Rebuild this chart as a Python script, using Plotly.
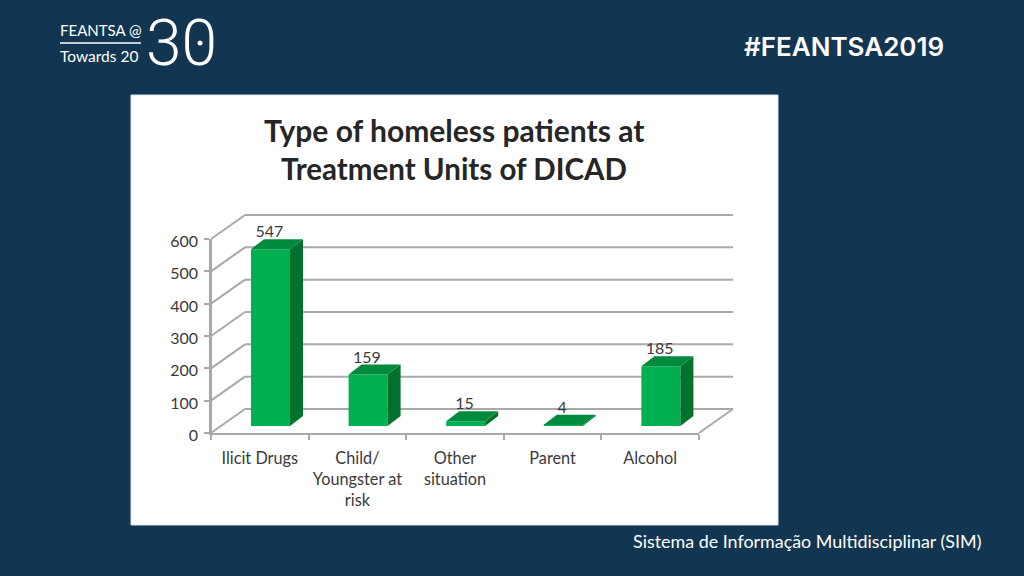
import plotly.graph_objects as go

categories = ["Ilicit Drugs", "Child/<br>Youngster at<br>risk", "Other<br>situation", "Parent", "Alcohol"]
values = [547, 159, 15, 4, 185]
y_ticks = [0, 100, 200, 300, 400, 500, 600]

W, H = 1024, 576
L, R, T, B = 211, 699, 239, 433
PXX = (R - L) / 5
PXY = (B - T) / 600

NAVY = "#123652"
GRID = "#A9A9A9"
FRONT = "#00B050"
SIDE = "#00722E"
TOP = "#008A3E"
TXT = "#3A3A3A"
FONT = "Lato"
LABEL_SHIFT = 2.5

WALL_X, WALL_Y = 34 / PXX, 24 / PXY
BAR_X0, BAR_Y0 = 10.7 / PXX, 7 / PXY
BAR_W = 39 / PXX
DEP_X, DEP_Y = 13 / PXX, 10 / PXY

def px(x):
    return x / W

def py(y):
    return 1 - y / H

fig = go.Figure()
xs = list(range(len(values)))

# invisible traces that keep the visible axes alive
fig.add_trace(go.Scatter(x=xs, y=values, mode="markers", marker=dict(opacity=0),
                         xaxis="x", yaxis="y", hoverinfo="skip", showlegend=False))
fig.add_trace(go.Scatter(x=xs, y=values, mode="markers", marker=dict(opacity=0),
                         xaxis="x", yaxis="y3", hoverinfo="skip", showlegend=False))

# bar front faces, on a hidden full-canvas axis pair that shares the chart's scale
fig.add_trace(go.Bar(x=xs, y=values, base=[BAR_Y0] * len(values), width=BAR_W,
                     offset=BAR_X0 - BAR_W / 2, marker=dict(color=FRONT, line=dict(width=0)),
                     xaxis="x2", yaxis="y2", showlegend=False))

# bar sides and tops
for i, v in zip(xs, values):
    x0 = i + BAR_X0 - BAR_W / 2
    x1 = x0 + BAR_W
    y0 = BAR_Y0
    y1 = BAR_Y0 + v
    fig.add_trace(go.Scatter(x=[x1, x1 + DEP_X, x1 + DEP_X, x1, x1],
                             y=[y0, y0 + DEP_Y, y1 + DEP_Y, y1, y0],
                             mode="lines", fill="toself", fillcolor=SIDE, line=dict(width=0),
                             xaxis="x2", yaxis="y2", hoverinfo="skip", showlegend=False))
    fig.add_trace(go.Scatter(x=[x0, x0 + DEP_X, x1 + DEP_X, x1, x0],
                             y=[y1, y1 + DEP_Y, y1 + DEP_Y, y1, y1],
                             mode="lines", fill="toself", fillcolor=TOP, line=dict(width=0),
                             xaxis="x2", yaxis="y2", hoverinfo="skip", showlegend=False))

# value labels
fig.add_trace(go.Scatter(x=[i + 9.5 / PXX for i in xs],
                         y=[BAR_Y0 + v + 16 / PXY for v in values],
                         mode="text", text=[str(v) for v in values],
                         textposition="middle center",
                         textfont=dict(family=FONT, size=16, color=TXT),
                         xaxis="x2", yaxis="y2", hoverinfo="skip", showlegend=False))

shapes = [
    dict(type="rect", xref="paper", yref="paper", layer="below",
         x0=px(131), x1=px(778), y0=py(525), y1=py(95),
         fillcolor="white", line=dict(color="#DDE3E8", width=1)),
    dict(type="line", xref="paper", yref="paper", layer="below",
         x0=px(60), x1=px(141), y0=py(43), y1=py(43), line=dict(color="white", width=1.5)),
    dict(type="circle", xref="paper", yref="paper", layer="below",
         x0=px(197.5), x1=px(202.5), y0=py(45.5), y1=py(40.5), fillcolor="white", line=dict(width=0)),
]

def wall_line(x0, y0, x1, y1):
    return dict(type="line", xref="x2", yref="y2", layer="below", x0=x0, y0=y0, x1=x1, y1=y1,
                line=dict(color=GRID, width=2))

for t in y_ticks:
    shapes.append(wall_line(-0.5, t, -0.5 + WALL_X, t + WALL_Y))
    shapes.append(wall_line(-0.5 + WALL_X, t + WALL_Y, 4.5 + WALL_X, t + WALL_Y))
shapes.append(wall_line(4.5, 0, 4.5 + WALL_X, WALL_Y))
shapes.append(wall_line(-0.5, 0, -0.5, 600))

def note(text, x, y, size, color="white", anchor="center", family=FONT, weight=None):
    f = dict(family=family, size=size, color=color)
    if weight:
        f["weight"] = weight
    return dict(text=text, xref="paper", yref="paper", x=px(x), y=py(y), xanchor=anchor,
                yanchor="middle", showarrow=False, font=f, align="center")

annotations = [
    note("<b>Type of homeless patients at</b>", 454, 130, 30, color="#262626"),
    note("<b>Treatment Units of DICAD</b>", 454, 168, 29.5, color="#262626"),
    note("Sistema de Informação Multidisciplinar (SIM)", 983, 541, 17.9, anchor="right"),
    note("#FEANTSA2019", 844, 47, 26, family="Inter", weight=600),
    note("FEANTSA @", 58, 30, 15, anchor="left"),
    note("Towards 20", 58, 56, 15.5, anchor="left"),
    note("30", 181, 43, 64, family="Roboto", weight=300),
]

fig.update_layout(
    width=W, height=H, autosize=False,
    margin=dict(l=0, r=0, t=0, b=0, pad=0, autoexpand=False),
    paper_bgcolor=NAVY, plot_bgcolor="rgba(0,0,0,0)",
    barmode="overlay", showlegend=False, shapes=shapes, annotations=annotations,
    xaxis=dict(domain=[L / W, R / W], range=[-0.5, 4.5], tickmode="array", tickvals=xs, ticktext=categories,
               ticks="", showgrid=False, zeroline=False, showline=True, linecolor=GRID, linewidth=2,
               automargin=False,
               tickfont=dict(family=FONT, size=16.3, color=TXT), ticklabelstandoff=9, anchor="y",
               minor=dict(tickmode="array", tickvals=[-0.5, 0.5, 1.5, 2.5, 3.5, 4.5],
                          ticks="outside", ticklen=5, tickwidth=2, tickcolor=GRID, showgrid=False)),
    yaxis=dict(domain=[1 - B / H, 1 - T / H], range=[0, 600], tickmode="array", tickvals=y_ticks,
               ticks="outside", ticklen=5, tickwidth=2, tickcolor=GRID, showticklabels=False,
               automargin=False,
               showgrid=False, zeroline=False, showline=True, linecolor=GRID, linewidth=2, anchor="x"),
    yaxis3=dict(domain=[1 - (B + LABEL_SHIFT) / H, 1 - (T + LABEL_SHIFT) / H], range=[0, 600],
                tickmode="array", tickvals=y_ticks, ticks="", showgrid=False, zeroline=False,
                automargin=False,
                showline=False, anchor="x", ticklabelstandoff=12,
                tickfont=dict(family=FONT, size=16, color=TXT)),
    xaxis2=dict(domain=[0, 1], range=[-0.5 - L / PXX, -0.5 + (W - L) / PXX], visible=False,
                automargin=False, fixedrange=True, anchor="y2"),
    yaxis2=dict(domain=[0, 1], range=[-(H - B) / PXY, B / PXY], visible=False,
                automargin=False, fixedrange=True, anchor="x2"),
)

fig.write_html("out.html", config={"displayModeBar": False},
               post_script="document.body.style.margin='0';document.body.style.overflow='hidden';")
